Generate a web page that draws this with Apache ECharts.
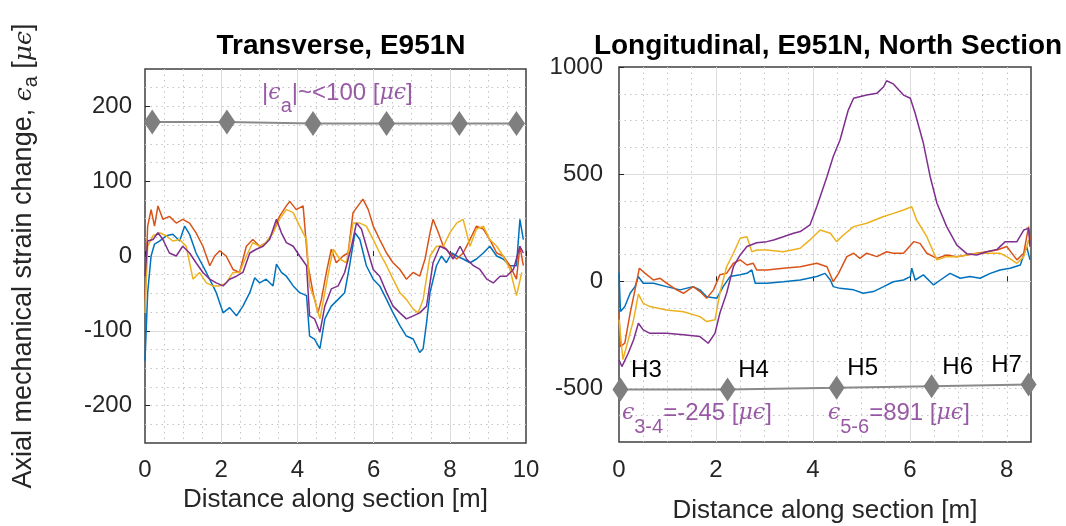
<!DOCTYPE html>
<html>
<head>
<meta charset="utf-8">
<title>E951N strain</title>
<script src="https://cdn.jsdelivr.net/npm/echarts@6.0.0/dist/echarts.min.js"></script>
<style>
  html, body { margin: 0; padding: 0; background: #fff; }
  #main { width: 1066px; height: 526px; }
</style>
</head>
<body>
<div id="main"></div>
<script>
// ---- Transverse, E951N (left panel) ----
var tBlueX = [0.00,0.07,0.16,0.25,0.38,0.56,0.73,0.91,1.04,1.17,1.34,1.61,1.87,2.05,2.22,2.40,2.57,2.75,2.88,3.01,3.18,3.36,3.45,3.58,3.71,3.89,4.06,4.24,4.32,4.45,4.59,4.72,4.89,5.07,5.24,5.37,5.51,5.64,5.81,5.99,6.16,6.34,6.51,6.69,6.86,7.04,7.21,7.30,7.39,7.48,7.65,7.78,7.91,8.05,8.18,8.35,8.53,8.70,8.88,9.05,9.23,9.40,9.58,9.75,9.84,9.93];
var tBlueY = [-140,-49,0,16,20,27,29,20,40,29,4,-22,-49,-76,-69,-80,-67,-49,-29,-36,-31,-40,-11,-22,-27,-40,-49,-53,-107,-111,-124,-84,-67,-58,-49,-13,31,22,-13,-31,-40,-58,-76,-93,-107,-111,-129,-124,-89,-49,-13,0,-9,4,0,-4,-9,-4,4,13,0,-4,-13,-13,49,22];

var tOrangeX = [0.00,0.07,0.16,0.25,0.34,0.47,0.64,0.82,0.99,1.17,1.34,1.52,1.70,1.83,1.96,2.13,2.31,2.48,2.66,2.83,3.01,3.18,3.36,3.53,3.71,3.80,3.97,4.15,4.28,4.41,4.54,4.63,4.76,4.89,5.02,5.20,5.33,5.46,5.59,5.72,5.86,5.99,6.16,6.34,6.51,6.69,6.86,7.04,7.21,7.35,7.48,7.56,7.70,7.83,8.00,8.18,8.35,8.53,8.70,8.88,9.05,9.23,9.40,9.58,9.75,9.84,9.93];
var tOrangeY = [-58,40,62,40,67,49,53,44,49,44,31,13,-13,0,7,0,-18,-22,13,22,13,18,31,53,67,73,62,67,-13,-49,-76,-58,-22,9,-9,0,4,58,67,76,62,40,22,4,-9,-18,-31,-22,-27,-4,31,49,31,13,4,-4,4,22,40,36,22,4,0,-13,-31,13,-13];

var tYellowX = [0.00,0.07,0.21,0.38,0.56,0.73,0.91,1.08,1.26,1.43,1.61,1.78,1.96,2.13,2.31,2.48,2.66,2.83,3.01,3.18,3.36,3.53,3.71,3.89,4.06,4.24,4.32,4.45,4.59,4.72,4.85,4.94,5.11,5.29,5.46,5.64,5.81,5.99,6.16,6.34,6.51,6.69,6.86,7.04,7.17,7.30,7.48,7.65,7.83,8.00,8.18,8.35,8.53,8.70,8.88,9.05,9.23,9.40,9.58,9.75,9.89];
var tYellowY = [-76,13,27,31,27,20,22,13,-31,-22,-36,-40,-40,-36,-22,-22,0,18,13,18,31,49,62,58,40,22,-40,-58,-84,-49,-13,9,-4,-9,44,44,40,22,4,-13,-31,-49,-58,-71,-76,-58,0,13,13,31,44,49,13,36,40,22,13,0,-18,-53,-22];

var tPurpleX = [0.00,0.07,0.21,0.34,0.47,0.64,0.82,0.99,1.17,1.34,1.52,1.70,1.87,2.05,2.22,2.40,2.57,2.75,2.92,3.10,3.27,3.45,3.58,3.71,3.89,4.06,4.24,4.32,4.45,4.59,4.72,4.89,5.07,5.24,5.42,5.55,5.68,5.81,5.99,6.16,6.34,6.51,6.69,6.86,7.04,7.21,7.39,7.56,7.74,7.91,8.09,8.27,8.44,8.62,8.79,8.97,9.14,9.32,9.49,9.67,9.84,9.93];
var tPurpleY = [-27,20,22,31,22,4,0,13,4,-9,-22,-31,-36,-40,-31,-27,-22,4,9,13,22,49,31,18,13,0,-13,-80,-84,-102,-67,-44,-40,-22,13,44,36,13,-18,-27,-49,-67,-76,-84,-80,-76,-67,-9,13,9,-4,13,-4,-13,-18,-31,-36,-27,-27,-18,13,4];

var tDiamondX = [0.19, 2.15, 4.41, 6.34, 8.25, 9.75];
var tDiamondY = [179, 179, 177, 177, 177, 177];

var tTickX = [0, 2, 4, 6, 8, 10];
var tTickY = [-200, -100, 0, 100, 200];

// ---- Longitudinal, E951N, North Section (right panel) ----
var lBlueX = [0.00,0.03,0.12,0.23,0.33,0.40,0.50,0.71,0.98,1.26,1.53,1.67,1.81,2.02,2.15,2.29,2.50,2.64,2.74,2.81,3.05,3.39,3.74,4.08,4.25,4.36,4.42,4.56,4.84,5.04,5.25,5.46,5.66,5.87,6.01,6.04,6.11,6.28,6.49,6.63,6.83,7.04,7.24,7.45,7.66,7.86,8.07,8.28,8.41,8.48];
var lBlueY = [40,-141,-118,-56,-25,22,-9,-9,-25,-40,-25,-40,-72,-79,-25,22,30,37,53,-9,-9,-2,6,22,37,6,-25,-33,-40,-56,-48,-25,-2,6,22,61,6,30,-17,6,37,14,22,14,37,53,61,76,162,100];

var lOrangeX = [0.00,0.03,0.12,0.23,0.33,0.42,0.54,0.71,0.85,0.98,1.19,1.33,1.53,1.67,1.81,1.95,2.08,2.22,2.36,2.50,2.64,2.77,2.84,3.05,3.39,3.74,4.08,4.29,4.42,4.53,4.70,4.84,4.97,5.11,5.32,5.52,5.66,5.87,6.08,6.21,6.35,6.56,6.76,6.97,7.18,7.38,7.59,7.80,8.00,8.21,8.35,8.45,8.48];
var lOrangeY = [-149,-305,-289,-149,-40,61,37,6,14,-9,-40,-56,-25,-48,-79,-40,30,37,84,100,76,84,53,53,61,68,84,68,-2,37,115,131,107,131,115,138,131,131,185,177,131,107,123,115,123,131,138,146,162,100,131,255,193];

var lYellowX = [0.00,0.08,0.16,0.30,0.40,0.50,0.64,0.98,1.33,1.67,1.81,1.98,2.08,2.22,2.36,2.50,2.64,2.74,2.84,3.05,3.39,3.74,3.94,4.15,4.36,4.49,4.63,4.84,5.11,5.46,5.66,5.87,6.04,6.14,6.35,6.56,6.76,6.97,7.18,7.38,7.59,7.86,8.00,8.21,8.35,8.45,8.48];
var lYellowY = [-179,-365,-300,-180,-60,-103,-118,-134,-142,-165,-188,-180,-56,68,131,201,208,138,146,146,138,154,193,239,224,185,216,255,271,302,317,333,348,286,208,100,115,115,123,131,131,131,115,84,115,193,162];

var lPurpleX = [0.00,0.06,0.19,0.30,0.40,0.50,0.64,0.98,1.33,1.67,1.84,1.98,2.08,2.22,2.36,2.50,2.64,2.84,3.05,3.19,3.39,3.60,3.74,3.94,4.08,4.29,4.42,4.56,4.73,4.84,5.11,5.32,5.46,5.52,5.66,5.87,6.01,6.11,6.28,6.42,6.56,6.76,6.97,7.18,7.38,7.59,7.80,7.97,8.21,8.35,8.45,8.48];
var lPurpleY = [-367,-398,-336,-274,-196,-227,-243,-243,-250,-258,-289,-243,-149,-56,68,123,162,180,185,193,208,224,232,263,348,488,582,659,799,854,869,877,908,936,921,869,854,784,644,488,364,255,169,128,123,138,149,185,185,239,247,162];

var lDiamondX = [0.03, 2.24, 4.49, 6.45, 8.45];
var lDiamondY = [-505, -505, -497, -490, -482];
var hLabels = ['H3', 'H4', 'H5', 'H6', 'H7'];

var lTickX = [0, 2, 4, 6, 8];
var lTickY = [-500, 0, 500, 1000];

// annotation anchors (data coords)
var tNoteX = [5.05], tNoteY = [218];
var lNoteX = [0.06, 4.31], lNoteY = [-617, -617];
var lNoteSub = ['3-4', '5-6'], lNoteVal = ['-245', '891'];

var FONT = "'Liberation Sans', Arial, Helvetica, sans-serif";
var GREEK = "'DejaVu Serif', serif";
var colors = ['#0072BD', '#D95319', '#EDB120', '#7E2F8E'];
var PURPLE = '#7E2F8E';
var AXC = '#262626';

function pairs(xs, ys) {
    var out = [];
    for (var i = 0; i < Math.min(xs.length, ys.length); i++) out.push([xs[i], ys[i]]);
    return out;
}
function plain(v) { return String(v); }

var richNote = {
    n: {fontFamily: FONT, fontSize: 24, color: PURPLE},
    g: {fontFamily: GREEK, fontStyle: 'italic', fontSize: 22, color: PURPLE},
    s: {fontFamily: FONT, fontSize: 20, color: PURPLE, padding: [28, 0, 0, 0]}
};

function auxX(grid, max) {
    return {
        gridIndex: grid, type: 'value', position: 'bottom', offset: 0, min: 0, max: max, interval: 0.5,
        axisLine: {show: false}, axisTick: {show: false}, axisLabel: {show: false},
        splitLine: {show: true, showMinLine: false, showMaxLine: false,
            lineStyle: {color: '#c4c4c4', width: 1, type: [1.5, 4]}}
    };
}
function auxY(grid, min, max, step) {
    return {
        gridIndex: grid, type: 'value', position: 'left', offset: 0, min: min, max: max, interval: step,
        axisLine: {show: false}, axisTick: {show: false}, axisLabel: {show: false},
        splitLine: {show: true, showMinLine: false, showMaxLine: false,
            lineStyle: {color: '#c4c4c4', width: 1, type: [1.5, 4]}}
    };
}
function mainX(grid, max, ticks, margin, nameGap) {
    return {
        gridIndex: grid, type: 'value', position: 'bottom', offset: 0, min: 0, max: max, interval: 2,
        name: 'Distance along section [m]', nameLocation: 'middle', nameGap: nameGap,
        nameTextStyle: {fontFamily: FONT, fontSize: 26, color: AXC},
        axisLine: {show: false},
        axisTick: {show: true, inside: true, length: 5, customValues: ticks, lineStyle: {color: AXC}},
        axisLabel: {customValues: ticks, formatter: plain, margin: margin, fontFamily: FONT, fontSize: 24, color: AXC},
        splitLine: {show: true, showMinLine: false, showMaxLine: false, lineStyle: {color: '#dcdcdc', width: 1}}
    };
}
function mainY(grid, min, max, step, ticks, margin) {
    return {
        gridIndex: grid, type: 'value', position: 'left', offset: 0, min: min, max: max, interval: step,
        axisLine: {show: false},
        axisTick: {show: true, inside: true, length: 5, customValues: ticks, lineStyle: {color: AXC}},
        axisLabel: {customValues: ticks, formatter: plain, margin: margin, fontFamily: FONT, fontSize: 24, color: AXC},
        splitLine: {show: true, showMinLine: false, showMaxLine: false, lineStyle: {color: '#dcdcdc', width: 1}}
    };
}
function strain(xs, ys, c, xi, yi) {
    return {
        type: 'line', xAxisIndex: xi, yAxisIndex: yi, data: pairs(xs, ys),
        showSymbol: false, symbol: 'none', clip: true,
        lineStyle: {color: c, width: 1.5}, itemStyle: {color: c}, z: 3
    };
}

var chart = echarts.init(document.getElementById('main'), null, {renderer: 'canvas'});

var leftY = mainY(0, -250, 250, 50, tTickY, 13);
leftY.name = 'Axial mechanical strain change, {g|ϵ}{s|a} [{g|μϵ}]';
leftY.nameLocation = 'middle';
leftY.nameRotate = 90;
leftY.nameGap = 104;
leftY.nameTextStyle = {
    fontFamily: FONT, fontSize: 27, color: AXC,
    rich: {
        g: {fontFamily: GREEK, fontStyle: 'italic', fontSize: 25, color: AXC},
        s: {fontFamily: FONT, fontSize: 20, color: AXC, padding: [14, 0, 0, 0]}
    }
};

var option = {
    backgroundColor: '#fff',
    animation: false,
    title: [
        {text: 'Transverse, E951N', left: 336, top: 27, textAlign: 'center',
            textStyle: {fontFamily: FONT, fontSize: 28, fontWeight: 'bold', color: '#000'}},
        {text: 'Longitudinal, E951N, North Section', left: 823, top: 27, textAlign: 'center',
            textStyle: {fontFamily: FONT, fontSize: 28, fontWeight: 'bold', color: '#000'}}
    ],
    grid: [
        {left: 145, top: 69, width: 381, height: 374, show: true, borderColor: '#404040', borderWidth: 1.5,
            backgroundColor: 'transparent', outerBoundsMode: 'none'},
        {left: 619, top: 67, width: 412, height: 375, show: true, borderColor: '#404040', borderWidth: 1.5,
            backgroundColor: 'transparent', outerBoundsMode: 'none'}
    ],
    xAxis: [auxX(0, 10), auxX(1, 8.5), mainX(0, 10, tTickX, 15, 41), mainX(1, 8.5, lTickX, 16, 56)],
    yAxis: [auxY(0, -250, 250, 25), auxY(1, -750, 1000, 125),
        leftY, mainY(1, -750, 1000, 250, lTickY, 16)],
    series: [
        strain(tBlueX, tBlueY, colors[0], 2, 2),
        strain(tOrangeX, tOrangeY, colors[1], 2, 2),
        strain(tYellowX, tYellowY, colors[2], 2, 2),
        strain(tPurpleX, tPurpleY, colors[3], 2, 2),
        {
            type: 'line', xAxisIndex: 2, yAxisIndex: 2, data: pairs(tDiamondX, tDiamondY),
            symbol: 'diamond', symbolSize: [17, 25], showSymbol: true, clip: false,
            itemStyle: {color: '#7f7f7f'}, lineStyle: {color: '#8a8a8a', width: 2}, z: 4
        },
        strain(lBlueX, lBlueY, colors[0], 3, 3),
        strain(lOrangeX, lOrangeY, colors[1], 3, 3),
        strain(lYellowX, lYellowY, colors[2], 3, 3),
        strain(lPurpleX, lPurpleY, colors[3], 3, 3),
        {
            type: 'line', xAxisIndex: 3, yAxisIndex: 3, clip: false,
            data: lDiamondX.map(function (x, i) {
                return {
                    value: [x, lDiamondY[i]],
                    label: {
                        show: true, formatter: hLabels[i], position: 'inside',
                        offset: [i === hLabels.length - 1 ? -22 : 26, -19],
                        fontFamily: FONT, fontSize: 24, color: '#000'
                    }
                };
            }),
            symbol: 'diamond', symbolSize: [16, 24], showSymbol: true,
            itemStyle: {color: '#7f7f7f'}, lineStyle: {color: '#8a8a8a', width: 2}, z: 4
        },
        {
            type: 'scatter', xAxisIndex: 2, yAxisIndex: 2, silent: true, z: 5,
            data: pairs(tNoteX, tNoteY), symbolSize: 1, itemStyle: {color: 'rgba(0,0,0,0)'},
            label: {
                show: true, position: 'inside', align: 'center',
                formatter: '{n||}{g|ϵ}{s|a}{n||~<100 [}{g|μϵ}{n|]}', rich: richNote
            }
        },
        {
            type: 'scatter', xAxisIndex: 3, yAxisIndex: 3, silent: true, z: 5,
            data: pairs(lNoteX, lNoteY), symbolSize: 1, itemStyle: {color: 'rgba(0,0,0,0)'},
            label: {
                show: true, position: 'inside', align: 'left',
                formatter: function (p) {
                    return '{g|ϵ}{s|' + lNoteSub[p.dataIndex] + '}{n|=' + lNoteVal[p.dataIndex] + ' [}{g|μϵ}{n|]}';
                },
                rich: richNote
            }
        }
    ]
};

chart.setOption(option);
</script>
</body>
</html>
